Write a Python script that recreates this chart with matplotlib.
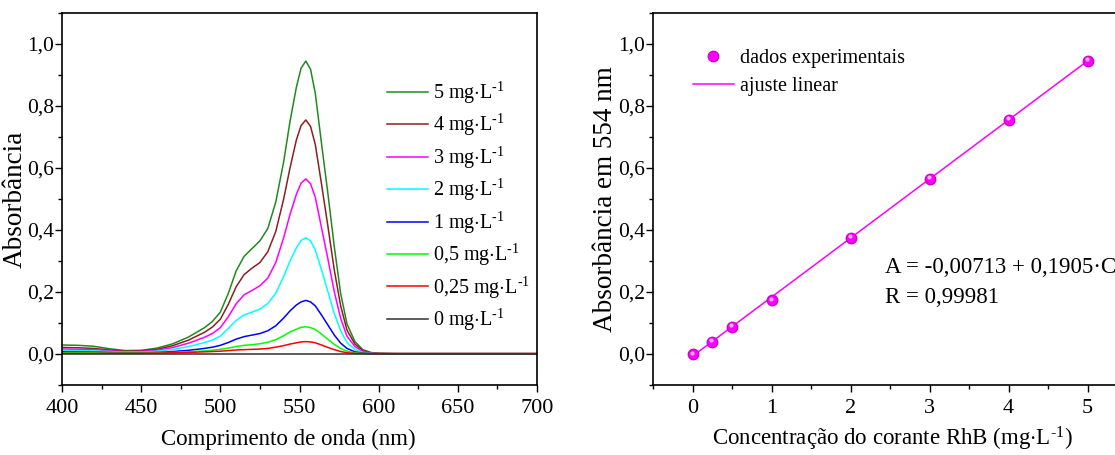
import matplotlib
matplotlib.use('Agg')
import matplotlib.pyplot as plt
from matplotlib.ticker import MultipleLocator, FuncFormatter
from matplotlib.transforms import offset_copy

plt.rcParams['font.family'] = ['Liberation Serif', 'DejaVu Serif']
plt.rcParams['mathtext.fontset'] = 'custom'
plt.rcParams['mathtext.rm'] = 'Liberation Serif'
plt.rcParams['mathtext.it'] = 'Liberation Serif:italic'

# %% data
wl = [400, 410, 420, 430, 440, 450, 460, 470, 480, 490, 495, 500, 505, 510, 515,
      520, 525, 530, 535, 540, 544, 548, 551, 554, 557, 560, 564, 568, 572, 576,
      580, 585, 590, 595, 600, 610, 620, 650, 700]

abs_5 = [.029, .028, .025, .017, .011, .012, .019, .033, .055, .085, .105, .135, .195, .268, .315,
         .340, .365, .405, .49, .62, .75, .86, .922, .945, .918, .84, .675, .515, .345, .195,
         .097, .04, .014, .005, .002, .001, .001, .001, .001]
abs_4 = [.021, .020, .018, .013, .009, .010, .015, .027, .045, .070, .087, .112, .160, .217, .256,
         .277, .295, .33, .395, .50, .60, .69, .737, .755, .734, .675, .545, .41, .27, .155,
         .077, .032, .011, .004, .002, .001, .001, .001, .001]
abs_3 = [.016, .015, .014, .010, .007, .008, .012, .021, .035, .054, .066, .085, .120, .162, .191,
         .205, .22, .245, .295, .375, .45, .515, .551, .565, .549, .505, .405, .305, .20, .115,
         .057, .024, .008, .003, .001, .001, .001, .001, .001]
abs_2 = [.012, .011, .010, .008, .006, .006, .009, .015, .024, .037, .045, .058, .082, .108, .126,
         .135, .145, .163, .196, .25, .30, .342, .366, .375, .365, .335, .27, .20, .13, .075,
         .037, .015, .005, .002, .001, .001, .001, .001, .001]
abs_1 = [.007, .007, .006, .005, .004, .004, .005, .008, .012, .018, .022, .028, .037, .048, .056,
         .061, .066, .075, .091, .116, .139, .158, .168, .173, .168, .155, .125, .093, .061, .035,
         .018, .007, .003, .001, .001, .001, .001, .001, .001]
abs_05 = [.004, .004, .004, .003, .003, .003, .004, .005, .007, .010, .012, .015, .019, .024, .028,
          .030, .033, .038, .046, .059, .071, .080, .086, .088, .085, .079, .064, .047, .031, .018,
          .009, .004, .002, .001, .001, .001, .001, .001, .001]
abs_025 = [.002, .002, .002, .002, .002, .002, .003, .004, .005, .007, .008, .009, .011, .013, .014,
           .015, .016, .018, .022, .027, .032, .036, .039, .040, .039, .036, .029, .021, .014, .008,
           .004, .002, .0015, .0015, .0015, .0015, .0015, .0015, .0015]
abs_0 = [0.0] * len(wl)

spectra = [abs_5, abs_4, abs_3, abs_2, abs_1, abs_05, abs_025, abs_0]
labels = ['5', '4', '3', '2', '1', '0,5', '0,25', '0']
colors = ['#1f8a1f', '#8b2020', '#ff00ff', '#00ffff', '#0000ff', '#00ff00', '#ff0000', '#303030']

# calibration
conc = [0, 0.25, 0.5, 1, 2, 3, 4, 5]
abs_554 = [0.000, 0.040, 0.088, 0.174, 0.375, 0.565, 0.756, 0.946]
fit_a = -0.00713
fit_b = 0.1905

W, H = 1115, 455
fig = plt.figure(figsize=(W / 100, H / 100), dpi=100)

unit = r'mg$\cdot$L$^{\text{-1}}$'


def comma(v, pos):
    return ('%.1f' % v).replace('.', ',')


def style(ax):
    for s in ['top', 'right', 'left', 'bottom']:
        ax.spines[s].set_linewidth(1.2)
    ax.tick_params(which='both', direction='out', top=False, right=False,
                   labelsize=16, width=1.0, pad=0.5)
    ax.tick_params(axis='y', labelsize=15.5)
    ax.tick_params(axis='x', which='both', pad=5)
    ax.tick_params(which='major', length=5)
    ax.tick_params(which='minor', length=3)
    ax.yaxis.set_major_locator(MultipleLocator(0.2))
    ax.yaxis.set_minor_locator(MultipleLocator(0.1))
    ax.yaxis.set_major_formatter(FuncFormatter(comma))
    ax.set_ylim(-0.1, 1.1)


# %% left: spectra
ax1 = fig.add_axes([62 / W, 70 / H, 475 / W, 372 / H])
style(ax1)
for y, lab, c in zip(spectra, labels, colors):
    ax1.plot(wl, y, color=c, lw=1.1, label=lab + ' ' + unit)
ax1.set_xlim(400, 700)
ax1.xaxis.set_major_locator(MultipleLocator(50))
ax1.xaxis.set_minor_locator(MultipleLocator(25))
ax1.set_xlabel('Comprimento de onda (nm)', fontsize=16.5)
ax1.set_ylabel('Absorbância', fontsize=19.5)
ax1.xaxis.set_label_coords(0.476, -0.118)
ax1.yaxis.set_label_coords(-0.073, 0.5)
ax1.legend(loc='upper left', bbox_to_anchor=(0.667, 0.842), frameon=False, fontsize=14.5,
           handlelength=2.05, handletextpad=0.25, labelspacing=0.31, borderaxespad=0)

# %% right: calibration
ax2 = fig.add_axes([653 / W, 70 / H, 474 / W, 372 / H])
style(ax2)
ax2.spines['right'].set_visible(False)
fit_y = [fit_a + fit_b * c for c in conc]
ax2.plot(conc, fit_y, color='#ff00ff', lw=1.1, label='ajuste linear', zorder=2)
ax2.plot(conc, abs_554, 'o', color='#ff00ff', mec='#d000d0', ms=7.5, label='dados experimentais', zorder=3)
# small highlight on each ball
shine = offset_copy(ax2.transData, fig=fig, x=-1.0, y=1.5, units='dots')
ax2.plot(conc, abs_554, 'o', color='#ffb0ff', mec='none', ms=3, transform=shine, zorder=4)
ax2.set_xlim(-0.5, 5.5)
ax2.xaxis.set_major_locator(MultipleLocator(1))
ax2.xaxis.set_minor_locator(MultipleLocator(0.5))
ax2.set_xlabel('Concentração do corante RhB (' + unit + ')', fontsize=16.5)
ax2.set_ylabel('Absorbância em 554 nm', fontsize=19.5)
ax2.xaxis.set_label_coords((892 - 653) / 474, -0.108)
ax2.yaxis.set_label_coords(-0.074, 0.5)
h, l = ax2.get_legend_handles_labels()
ax2.legend(h[::-1], l[::-1], loc='upper left', bbox_to_anchor=(0.067, 0.925), frameon=False,
           fontsize=14.5, handlelength=2.05, handletextpad=0.3, labelspacing=0.42, borderaxespad=0)
ax2.text(0.49, 0.317, 'A = -0,00713 + 0,1905·C', transform=ax2.transAxes,
         fontsize=16.5, va='center', ha='left')
ax2.text(0.49, 0.234, 'R = 0,99981', transform=ax2.transAxes,
         fontsize=16.5, va='center', ha='left')

fig.savefig('out.png', dpi=100)
